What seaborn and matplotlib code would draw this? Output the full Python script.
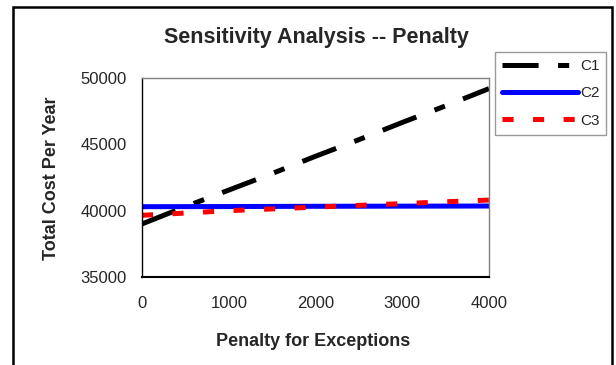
import matplotlib
matplotlib.use("Agg")
import matplotlib.pyplot as plt
import seaborn as sns
import pandas as pd
from matplotlib.patches import Rectangle

penalty = [0, 500, 1000, 1500, 2000, 2500, 3000, 3500, 4000]
c1 = [39000, 40300, 41550, 42800, 44100, 45350, 46650, 47900, 49200]
c2 = [40300, 40305, 40310, 40320, 40330, 40335, 40340, 40345, 40350]
c3 = [39650, 39820, 40000, 40130, 40270, 40400, 40530, 40670, 40800]
series = ["C1", "C2", "C3"]
colors = {"C1": "#000000", "C2": "#0000FF", "C3": "#FF0000"}

df = pd.DataFrame({
    "Penalty": penalty * 3,
    "Cost": c1 + c2 + c3,
    "Series": ["C1"] * len(penalty) + ["C2"] * len(penalty) + ["C3"] * len(penalty),
})

sns.set_style("white")
plt.rcParams["font.family"] = ["Liberation Sans", "DejaVu Sans"]
plt.rcParams["lines.scale_dashes"] = False

fig = plt.figure(figsize=(6.16, 3.65), dpi=100)
ax = fig.add_axes([142 / 616, 1 - 277 / 365, (489 - 142) / 616, (277 - 78) / 365])

sns.lineplot(data=df, x="Penalty", y="Cost", hue="Series", style="Series",
             palette=colors,
             dashes={"C1": (26, 14, 8, 14), "C2": "", "C3": (8, 14)},
             linewidth=3.6, ax=ax, legend=True)

for line in ax.get_lines():
    line.set_solid_capstyle("butt")
    line.set_dash_capstyle("butt")

ax.set_xlim(0, 4000)
ax.set_ylim(35000, 50000)
ax.set_xticks([0, 1000, 2000, 3000, 4000])
ax.set_yticks([35000, 40000, 45000, 50000])
ax.tick_params(axis="both", labelsize=12, direction="out", length=4, width=1,
               color="black")
ax.tick_params(axis="x", pad=10)
ax.tick_params(axis="y", pad=7)
for s in ["top", "right"]:
    ax.spines[s].set_color("#808080")
    ax.spines[s].set_linewidth(1)
ax.spines["left"].set_color("black")
ax.spines["left"].set_linewidth(1)
ax.spines["bottom"].set_color("black")
ax.spines["bottom"].set_linewidth(1.5)

ax.set_xlabel("Penalty for Exceptions", fontsize=13, fontweight="bold", va="center")
ax.set_ylabel("Total Cost Per Year", fontsize=13, fontweight="bold", va="center")
ax.xaxis.set_label_coords(313 / 616, 1 - 342 / 365, transform=fig.transFigure)
ax.yaxis.set_label_coords(52 / 616, 1 - 178 / 365, transform=fig.transFigure)
fig.text(316 / 616, 1 - 38 / 365, "Sensitivity Analysis -- Penalty",
         ha="center", va="center", fontsize=15.5, fontweight="bold")

handles, labels = ax.get_legend_handles_labels()
leg = ax.legend(handles, labels, loc="upper left",
                bbox_to_anchor=(495 / 616, 1 - 52 / 365),
                bbox_transform=fig.transFigure,
                fontsize=11, handlelength=5.0, handletextpad=0.1,
                labelspacing=0.88, borderpad=0.45, borderaxespad=0,
                frameon=True, fancybox=False, edgecolor="#808080")
leg.get_frame().set_linewidth(1)
for h in leg.get_lines():
    h.set_linewidth(3.6)
leg.get_lines()[1].set_solid_capstyle("round")

fig.patches.append(Rectangle((13 / 616, -0.05), (612 - 13) / 616, 1 - 7 / 365 + 0.05,
                             transform=fig.transFigure, fill=False,
                             edgecolor="black", linewidth=1.8))

fig.savefig("out.png", dpi=100)
